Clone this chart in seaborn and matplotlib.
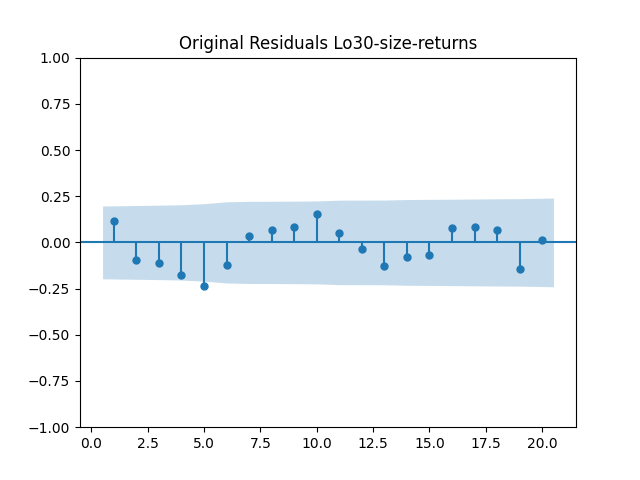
import numpy as np
import pandas as pd
import matplotlib
matplotlib.use("Agg")
import matplotlib.pyplot as plt
import seaborn as sns

lags = [1, 2, 3, 4, 5, 6, 7, 8, 9, 10, 11, 12, 13, 14, 15, 16, 17, 18, 19, 20]
acf_values = [0.117, -0.095, -0.111, -0.176, -0.236, -0.122, 0.035, 0.068, 0.084, 0.154,
              0.051, -0.035, -0.127, -0.079, -0.068, 0.079, 0.084, 0.068, -0.144, 0.014]
n_obs = 99
title = "Original Residuals Lo30-size-returns"

df = pd.DataFrame({"lag": lags, "acf": acf_values})

# Bartlett confidence band half-widths (95%)
acf_arr = np.array(acf_values)
cum = np.concatenate([[0.0], np.cumsum(acf_arr[:-1] ** 2)])
half = 1.96 * np.sqrt((1 + 2 * cum) / n_obs)

fig, ax = plt.subplots(figsize=(6.4, 4.8), dpi=100)
ax.vlines(df["lag"], 0, df["acf"], color="C0")
ax.axhline(0, color="C0")
sns.scatterplot(data=df, x="lag", y="acf", ax=ax, color="C0", s=25,
                edgecolor="C0", linewidth=1, zorder=3)
ax.margins(0.05)
ax.set_title(title)
ax.set_ylim(-1, 1)
band_x = np.array(lags, dtype=float)
band_x[0] -= 0.5
band_x[-1] += 0.5
ax.fill_between(band_x, -half, half, alpha=0.25, color="C0", linewidth=0)
ax.set_xlabel("")
ax.set_ylabel("")
fig.savefig("out.png", dpi=100)
